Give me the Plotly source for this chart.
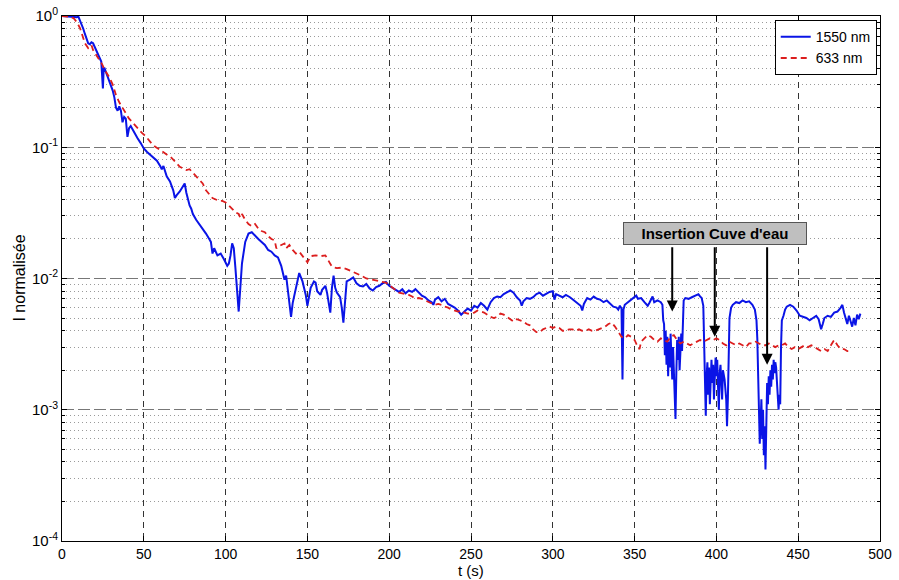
import math
import plotly.graph_objects as go

# ---------------- data ----------------
t_1550 = [0, 4, 7, 9, 10, 11, 12, 13, 14, 15, 16, 17, 18, 19, 20, 21, 22, 23, 24, 25, 25.5, 26, 27, 28, 29, 30,
          31, 32, 33, 34, 35, 36, 37, 38, 39, 40, 41, 42, 44, 46, 48, 50, 52, 54, 56, 58, 60, 61, 62, 63, 64, 66,
          68, 69, 70, 72, 74, 75, 76, 77, 78, 79, 80, 82, 84, 86, 88, 90, 91, 92, 93, 95, 97, 99, 101, 102, 103,
          104, 105, 106, 107, 108, 109, 110, 112, 114, 116, 118, 120, 122, 124, 126, 128, 130, 132, 134, 135, 136,
          137, 138, 139, 140, 141, 143, 145, 147, 149, 150, 152, 154, 155, 156, 158, 159, 161, 162, 164, 165, 166,
          167, 168, 170, 171, 172, 173, 174, 176, 178, 180, 182, 184, 186, 188, 190, 192, 194, 196, 198, 200, 202,
          204, 206, 208, 210, 212, 214, 216, 218, 220, 222, 224, 226, 227, 228, 230, 232, 234, 236, 238, 240, 242,
          244, 246, 248, 250, 252, 254, 256, 258, 260, 262, 264, 266, 268, 270, 272, 274, 276, 278, 280, 281, 282,
          284, 286, 288, 290, 292, 294, 296, 298, 300, 301, 302, 304, 306, 308, 310.5, 313, 315, 317, 318, 319,
          321, 323, 325, 327, 329, 331, 333, 335, 337, 339, 340, 341, 342, 342.6, 343.2, 344, 346, 348, 350, 351,
          352, 354, 356, 358, 359, 360, 361, 362, 364, 366, 367, 367.5,
          368, 368.5, 369, 369.5, 370, 370.5, 371, 371.5, 372, 372.5, 373, 373.5, 374, 374.5, 375, 375.5, 376,
          376.5, 377, 377.5, 378, 378.5, 379, 379.5, 380, 381, 383, 385, 387, 389, 390, 391, 392, 392.5, 393,
          393.5, 394, 394.5, 395, 395.5, 396, 396.5, 397, 397.5, 398, 398.5, 399, 399.5, 400, 400.5, 401, 401.5,
          402, 402.5, 403, 403.5, 404, 405, 406, 406.5, 407, 407.5, 408, 409, 410, 412, 414, 416, 418, 420, 422,
          423.5, 424.5, 425, 425.5, 426, 426.5, 427, 427.5, 428, 428.5, 429, 429.5, 430, 430.5, 431, 431.5, 432,
          432.5, 433, 433.5, 434, 434.5, 435, 435.5, 436, 436.5, 437, 437.5, 438, 438.5, 439, 439.5, 440, 441,
          442, 443, 445, 447, 449, 451, 453, 455, 457, 459, 461, 462.5, 464, 465, 466, 468, 470, 472, 474, 476,
          477, 478, 479, 480, 481, 482, 483, 484, 485, 486, 487, 488]
i_1550 = [1.0, 0.99, 0.985, 0.98, 0.99, 0.93, 0.86, 0.80, 0.73, 0.67, 0.62, 0.61, 0.63, 0.62, 0.58, 0.56, 0.52,
          0.48, 0.45, 0.28, 0.40, 0.40, 0.37, 0.35, 0.32, 0.29, 0.27, 0.24, 0.20, 0.19, 0.205, 0.19, 0.155, 0.17,
          0.165, 0.12, 0.14, 0.145, 0.13, 0.118, 0.108, 0.098, 0.092, 0.087, 0.083, 0.079, 0.072, 0.068, 0.072,
          0.066, 0.060, 0.055, 0.047, 0.041, 0.043, 0.046, 0.050, 0.053, 0.045, 0.039, 0.036, 0.034, 0.031, 0.028,
          0.026, 0.024, 0.022, 0.020, 0.019, 0.0155, 0.017, 0.015, 0.0155, 0.014, 0.0125, 0.013, 0.015, 0.0185,
          0.017, 0.012, 0.0078, 0.0056, 0.0085, 0.013, 0.019, 0.022, 0.0225, 0.021, 0.020, 0.019, 0.018, 0.0165,
          0.016, 0.015, 0.0145, 0.0125, 0.011, 0.0098, 0.0105, 0.0085, 0.0065, 0.0051, 0.0065, 0.0085, 0.011,
          0.0095, 0.0075, 0.0062, 0.0085, 0.0095, 0.0093, 0.008, 0.0075, 0.0082, 0.0088, 0.0078, 0.0055, 0.0085,
          0.0105, 0.0085, 0.0078, 0.0072, 0.006, 0.0046, 0.007, 0.0095, 0.0098, 0.0102, 0.0092, 0.0088, 0.0087,
          0.0091, 0.0084, 0.0081, 0.0086, 0.0088, 0.0092, 0.0094, 0.0088, 0.0085, 0.0082, 0.0079, 0.0083, 0.0077,
          0.0081, 0.0079, 0.0083, 0.0078, 0.0074, 0.0072, 0.0068, 0.0066, 0.0063, 0.0069, 0.0072, 0.0067, 0.007,
          0.0064, 0.0062, 0.006, 0.0057, 0.0053, 0.0056, 0.0059, 0.0057, 0.0062, 0.006, 0.0065, 0.0062, 0.0058,
          0.0066, 0.0071, 0.0073, 0.0072, 0.0076, 0.0078, 0.0081, 0.0078, 0.0072, 0.0068, 0.0062, 0.0067, 0.0071,
          0.0070, 0.0072, 0.0076, 0.0078, 0.0074, 0.0077, 0.0079, 0.0080, 0.0069, 0.0076, 0.0074, 0.0072, 0.0075,
          0.0072, 0.0068, 0.0065, 0.0062, 0.0057, 0.0064, 0.0071, 0.0069, 0.0073, 0.0070, 0.0069, 0.0066, 0.0068,
          0.0064, 0.0061, 0.0060, 0.0058, 0.0062, 0.0059, 0.0017, 0.0058, 0.0063, 0.0066, 0.0068, 0.0072, 0.0074,
          0.0070, 0.0071, 0.0066, 0.0062, 0.0065, 0.0069, 0.0073, 0.0066, 0.0068, 0.0066, 0.0063, 0.0048,
          0.0045, 0.0026, 0.0040, 0.0022, 0.0036, 0.0018, 0.0033, 0.0021, 0.0038, 0.0025, 0.0017, 0.0030, 0.0020,
          0.0012, 0.00085, 0.0019, 0.0034, 0.0024, 0.0036, 0.0020, 0.0030, 0.0038, 0.0028, 0.0050, 0.0068, 0.0071,
          0.0070, 0.0072, 0.0074, 0.0076, 0.0073, 0.0071, 0.0062, 0.0035, 0.0021, 0.00090, 0.0018, 0.0023, 0.0013,
          0.0021, 0.0011, 0.0020, 0.0024, 0.0016, 0.0022, 0.0012, 0.0020, 0.0025, 0.0018, 0.0024, 0.0015, 0.0010,
          0.0019, 0.0022, 0.0016, 0.0012, 0.0020, 0.0017, 0.0012, 0.00075, 0.0012, 0.0035, 0.0050, 0.0060, 0.0063,
          0.0066, 0.0065, 0.0068, 0.0066, 0.0067, 0.0063, 0.0058, 0.0048, 0.0035, 0.0016, 0.0009, 0.00055, 0.0008,
          0.0012, 0.0006, 0.0010, 0.00045, 0.00075, 0.00035, 0.0009, 0.0016, 0.0011, 0.0018, 0.0013, 0.0020,
          0.0015, 0.0022, 0.0017, 0.0024, 0.0019, 0.0023, 0.0021, 0.0015, 0.0011, 0.0010, 0.0013, 0.0011, 0.0030,
          0.0048, 0.0052, 0.0058, 0.0061, 0.0063, 0.0061, 0.0057, 0.0052, 0.0051, 0.0050, 0.0048, 0.0050, 0.0052,
          0.0049, 0.0041, 0.0045, 0.0050, 0.0052, 0.0051, 0.0055, 0.0056, 0.0060, 0.0063, 0.0055, 0.0049, 0.0045,
          0.0052, 0.0047, 0.0043, 0.0050, 0.0044, 0.0053, 0.0049, 0.0054]

t_633 = [0, 4, 7, 9, 11, 13, 14, 16, 18, 19, 21, 23, 24.5, 26, 28, 29, 31, 33, 35, 37, 39, 41, 43, 45, 47, 49, 51,
         53, 55, 57, 59, 61, 63, 65, 67, 69, 71, 72, 74, 76, 78, 80, 82, 84, 86, 88, 90, 92, 94, 96, 98, 100, 102,
         104, 106, 108, 109, 110, 112, 114, 116, 118, 120, 122, 124, 126, 128, 130, 131, 132, 134, 136, 137, 139,
         141, 143, 145, 147, 149, 150, 152, 155, 158, 161, 163, 165, 168, 171, 174, 177, 180, 183, 186, 189, 192,
         195, 198, 200, 202, 204, 206, 208, 210, 212, 214, 216, 218, 220, 222, 224, 226, 228, 230, 232, 234, 236,
         238, 240, 242, 244, 246, 248, 250, 252, 254, 256, 258, 260, 262, 264, 266, 268, 270, 272, 274, 276, 278,
         280, 282, 284, 286, 288, 290, 292, 294, 296, 298, 300, 302, 304, 306, 308, 310, 312, 314, 316, 318, 320,
         322, 324, 326, 328, 330, 332, 334, 336, 338, 340, 342, 344, 346, 348, 350, 352, 353, 354, 356, 358, 360,
         362, 364, 366, 368, 370, 372, 374, 376, 378, 380, 382, 384, 386, 388, 390, 392, 394, 396, 398, 400, 402,
         404, 406, 408, 410, 412, 414, 416, 418, 420, 422, 424, 426, 428, 430, 432, 434, 436, 438, 440, 442, 444,
         446, 448, 450, 452, 454, 456, 458, 460, 462, 464, 466, 468, 470, 472, 474, 476, 478, 480, 482]
i_633 = [1.0, 0.99, 0.965, 0.90, 0.81, 0.68, 0.62, 0.57, 0.60, 0.55, 0.50, 0.46, 0.43, 0.39, 0.36, 0.34, 0.30,
         0.25, 0.22, 0.20, 0.18, 0.165, 0.155, 0.145, 0.135, 0.128, 0.122, 0.113, 0.106, 0.101, 0.097, 0.093,
         0.089, 0.086, 0.083, 0.078, 0.073, 0.071, 0.069, 0.067, 0.068, 0.064, 0.060, 0.056, 0.053, 0.047, 0.044,
         0.041, 0.040, 0.039, 0.039, 0.038, 0.036, 0.034, 0.032, 0.031, 0.029, 0.031, 0.028, 0.026, 0.025, 0.026,
         0.024, 0.023, 0.0225, 0.021, 0.020, 0.0195, 0.017, 0.0175, 0.018, 0.0185, 0.017, 0.018, 0.0165, 0.0155,
         0.016, 0.015, 0.0138, 0.0133, 0.0148, 0.015, 0.0148, 0.015, 0.0135, 0.0123, 0.0120, 0.0121, 0.0118,
         0.0114, 0.0110, 0.0105, 0.0100, 0.0098, 0.0096, 0.0094, 0.0093, 0.0089, 0.0085, 0.0081, 0.0078, 0.0077,
         0.0076, 0.0075, 0.0073, 0.0070, 0.0071, 0.0070, 0.0068, 0.0066, 0.0064, 0.0063, 0.0064, 0.0063, 0.0061,
         0.0060, 0.0058, 0.0057, 0.0056, 0.0057, 0.0055, 0.0054, 0.0054, 0.0055, 0.0057, 0.0056, 0.0055, 0.0053,
         0.0051, 0.0050, 0.0051, 0.0054, 0.0053, 0.0051, 0.0049, 0.0047, 0.0049, 0.0048, 0.0047, 0.0045, 0.0044,
         0.0041, 0.0039, 0.0039, 0.0041, 0.0042, 0.0043, 0.0042, 0.0043, 0.0042, 0.0040, 0.0040, 0.0041, 0.0041,
         0.0040, 0.0041, 0.0040, 0.0040, 0.0041, 0.0040, 0.0040, 0.0041, 0.0042, 0.0043, 0.0045, 0.0046, 0.0043,
         0.0039, 0.0036, 0.0035, 0.0037, 0.0036, 0.0034, 0.0030, 0.0029, 0.0033, 0.0035, 0.0037, 0.0036, 0.0034,
         0.0033, 0.0035, 0.0034, 0.0033, 0.0036, 0.0037, 0.0034, 0.0032, 0.0033, 0.0032, 0.0031, 0.0032, 0.0033,
         0.0034, 0.0033, 0.0034, 0.0035, 0.0034, 0.0035, 0.0034, 0.0032, 0.0031, 0.0033, 0.0032, 0.0031, 0.0032,
         0.0031, 0.0030, 0.0032, 0.0032, 0.0033, 0.0032, 0.0031, 0.0031, 0.0032, 0.0031, 0.0030, 0.0031, 0.0031,
         0.0032, 0.0030, 0.0029, 0.0030, 0.0029, 0.0030, 0.0031, 0.0030, 0.0031, 0.0030, 0.0029, 0.0028, 0.0029,
         0.0028, 0.0031, 0.0034, 0.0031, 0.0029, 0.0029, 0.0028, 0.0028]

x_ticks = [0, 50, 100, 150, 200, 250, 300, 350, 400, 450, 500]
y_ticks = [1e-4, 1e-3, 1e-2, 1e-1, 1]
y_tick_labels = ["10<sup>-4</sup>", "10<sup>-3</sup>", "10<sup>-2</sup>", "10<sup>-1</sup>", "10<sup>0</sup>"]
y_minor = [m * 10.0 ** e for e in (-4, -3, -2, -1) for m in range(2, 10)]

x_title = "t (s)"
y_title = "I normalisée"
annot_text = "Insertion Cuve d'eau"
arrow_targets_t = [373, 399, 431]
arrow_targets_i = [0.0056, 0.0036, 0.0022]
box_t, box_i = 399, 0.0222
arrow_tail_i = 0.0178

FONT = "Liberation Sans, Arial, sans-serif"

fig = go.Figure()
fig.add_trace(go.Scatter(x=t_1550, y=i_1550, mode="lines", name="1550 nm",
                         line=dict(color="#0a14e6", width=2)))
fig.add_trace(go.Scatter(x=t_633, y=i_633, mode="lines", name="633 nm",
                         line=dict(color="#dc1e1e", width=1.8, dash="6px,4px")))

# annotation box
fig.add_annotation(x=box_t, y=math.log10(box_i), xref="x", yref="y", text="<b>" + annot_text + "</b>",
                   showarrow=False, bgcolor="#bfbfbf", bordercolor="#555555", borderwidth=1,
                   width=180, height=19, borderpad=1,
                   font=dict(family=FONT, size=15, color="black"))
for tt, ii in zip(arrow_targets_t, arrow_targets_i):
    fig.add_annotation(x=tt, y=math.log10(ii), xref="x", yref="y",
                       ax=tt, ay=math.log10(arrow_tail_i), axref="x", ayref="y",
                       text="", showarrow=True, arrowhead=2, arrowsize=1.1, arrowwidth=2,
                       arrowcolor="black")

# axis titles
fig.add_annotation(x=-0.0525, y=0.5, xref="paper", yref="paper", text=y_title, textangle=-90,
                   xanchor="center", yanchor="middle",
                   showarrow=False, font=dict(family=FONT, size=16, color="black"))
fig.add_annotation(x=0.5, y=-0.056, xref="paper", yref="paper", text=x_title,
                   xanchor="center", yanchor="middle",
                   showarrow=False, font=dict(family=FONT, size=15, color="black"))

fig.update_layout(
    width=899, height=580,
    margin=dict(l=62, r=19, t=16, b=39, autoexpand=False),
    paper_bgcolor="white", plot_bgcolor="white",
    font=dict(family=FONT, size=14, color="black"),
    showlegend=True,
    legend=dict(x=0.996, y=0.992, xanchor="right", yanchor="top",
                bgcolor="white", bordercolor="black", borderwidth=1,
                font=dict(family=FONT, size=14), tracegroupgap=0,
                itemwidth=30),
)
fig.update_xaxes(
    range=[0, 500], tickvals=x_ticks, ticks="inside", ticklen=5, tickcolor="black",
    showline=True, linecolor="black", linewidth=1, mirror="allticks",
    showgrid=True, gridcolor="#333333", griddash="6px,5px", gridwidth=1,
    zeroline=False, automargin=False, ticklabeloverflow="allow",
    tickfont=dict(family=FONT, size=14),
)
fig.update_yaxes(
    type="log", range=[-4, 0], tickvals=y_ticks, ticktext=y_tick_labels,
    ticks="inside", ticklen=5, tickcolor="black",
    showline=True, linecolor="black", linewidth=1, mirror="allticks",
    showgrid=True, gridcolor="#777777", griddash="12px,4px", gridwidth=1,
    zeroline=False, automargin=False, ticklabeloverflow="allow",
    minor=dict(tickvals=y_minor, ticks="inside", ticklen=3, tickcolor="black",
               showgrid=True, gridcolor="#9a9a9a", griddash="1px,3px", gridwidth=1),
    tickfont=dict(family=FONT, size=15),
)

# remove the default page margin so the 899x580 figure fills the window exactly
fig.write_html("out.html", config={"displayModeBar": False},
               post_script="document.body.style.margin='0';")
